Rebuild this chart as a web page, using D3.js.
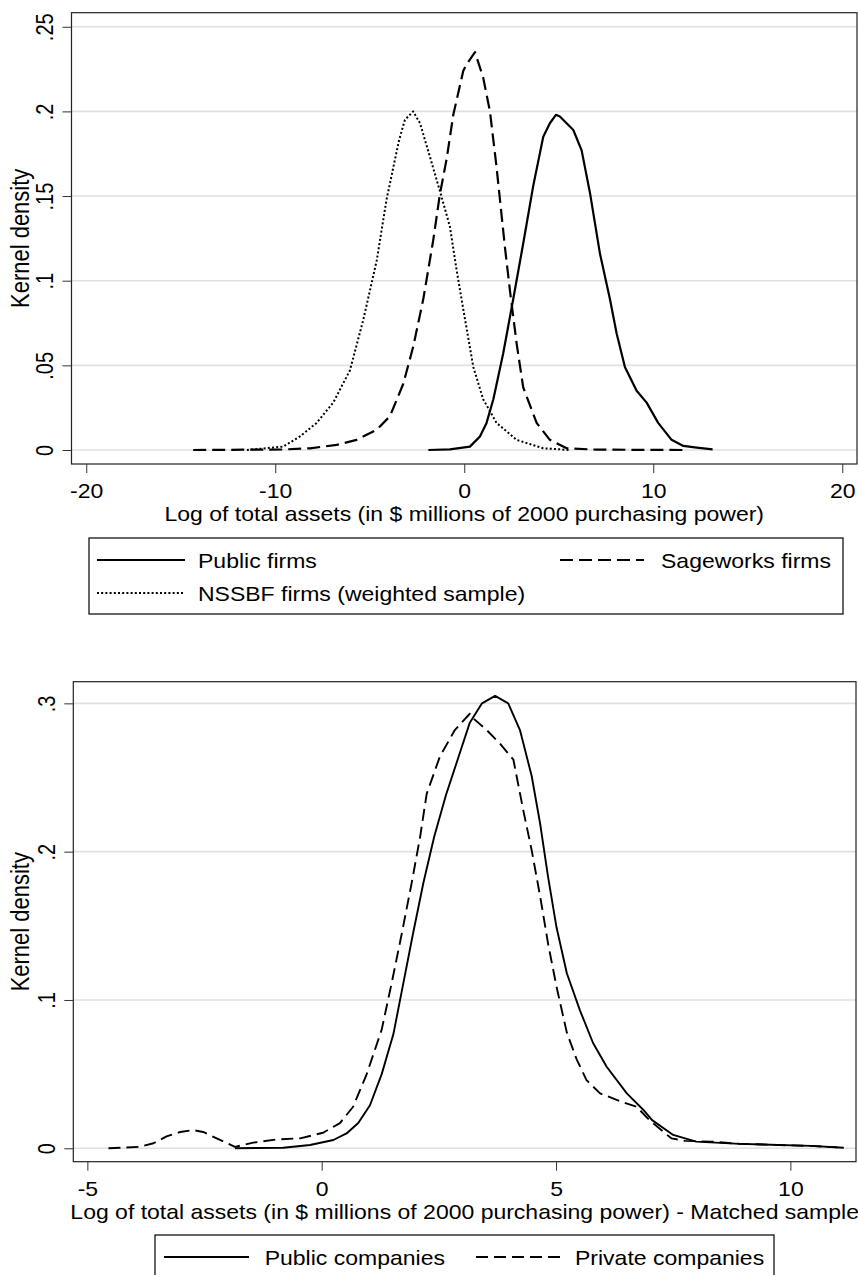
<!DOCTYPE html>
<html>
<head>
<meta charset="utf-8">
<script src="https://cdn.jsdelivr.net/npm/d3@7"></script>
<style>
    body { margin: 0; background: #fff; }
    svg { display: block; }
    text { font-family: "Liberation Sans", Arial, sans-serif; font-size: 20px; fill: #000; }
    .ytitle { font-size: 22px; }
</style>
</head>
<body>
<div id="chart"></div>
<script>
// ---- top panel: full samples ----
const topXTicks = [-20, -10, 0, 10, 20];
const topYTicks = [0, 0.05, 0.1, 0.15, 0.2, 0.25];
const topLegend = ["Public firms", "Sageworks firms", "NSSBF firms (weighted sample)"];

const publicFirms = [[-1.9,0],[-0.76,0.0004],[0.3,0.002],[0.83,0.008],[1.18,0.016],[1.54,0.03],[2.06,0.057],
    [2.59,0.089],[3.12,0.122],[3.65,0.156],[4.18,0.185],[4.53,0.193],[4.85,0.198],[5.06,0.197],[5.77,0.189],
    [6.21,0.177],[6.65,0.152],[7.18,0.116],[7.71,0.089],[8.06,0.069],[8.5,0.049],[9.12,0.035],[9.65,0.028],
    [10.26,0.016],[10.97,0.006],[11.59,0.0024],[12.3,0.0014],[13.14,0.0004]];

const sageworksFirms = [[-14.34,0],[-9.58,0.0003],[-8.16,0.001],[-6.75,0.003],[-5.69,0.006],[-4.63,0.012],
    [-3.93,0.02],[-3.23,0.039],[-2.7,0.061],[-2.17,0.089],[-1.64,0.124],[-1.29,0.151],[-0.93,0.172],[-0.58,0.198],
    [-0.05,0.224],[0.13,0.228],[0.57,0.235],[1.0,0.22],[1.36,0.2],[1.71,0.167],[2.15,0.12],[2.42,0.094],
    [2.77,0.063],[3.12,0.037],[3.83,0.016],[4.53,0.006],[5.42,0.001],[7,0.0002],[11.68,0]];

const nssbfFirms = [[-11.5,0],[-9.58,0.002],[-8.69,0.008],[-7.81,0.016],[-6.93,0.028],[-6.05,0.047],
    [-5.34,0.077],[-4.63,0.112],[-4.11,0.148],[-3.45,0.183],[-3.14,0.195],[-2.7,0.2],[-2.34,0.193],
    [-1.81,0.173],[-1.29,0.153],[-0.76,0.132],[-0.4,0.106],[-0.05,0.083],[0.48,0.049],[1.0,0.03],
    [1.71,0.016],[2.77,0.006],[4.18,0.001],[5.6,0]];

// ---- bottom panel: matched sample ----
const bottomXTicks = [-5, 0, 5, 10];
const bottomYTicks = [0, 0.1, 0.2, 0.3];
const bottomLegend = ["Public companies", "Private companies"];

const publicCompanies = [[-1.85,0],[-0.82,0.0004],[-0.25,0.0022],[0.25,0.0056],[0.53,0.01],[0.78,0.017],
    [1.03,0.029],[1.28,0.05],[1.53,0.077],[1.74,0.111],[1.95,0.145],[2.17,0.179],[2.4,0.21],[2.65,0.238],
    [2.91,0.263],[3.16,0.287],[3.42,0.3],[3.7,0.305],[3.98,0.3],[4.23,0.282],[4.48,0.251],[4.66,0.219],
    [4.83,0.183],[5.01,0.149],[5.23,0.118],[5.51,0.093],[5.79,0.071],[6.08,0.055],[6.51,0.037],[6.86,0.026],
    [7.05,0.019],[7.5,0.009],[7.99,0.0045],[8.92,0.003],[10.44,0.0016],[11.14,0.0004]];

const privateCompanies = [[-4.55,0],[-3.88,0.001],[-3.59,0.0034],[-3.31,0.008],[-3.02,0.011],[-2.74,0.0123],
    [-2.53,0.011],[-2.24,0.0067],[-1.85,0.001],[-1.46,0.0038],[-0.96,0.006],[-0.46,0.0067],[0.03,0.0105],
    [0.39,0.017],[0.67,0.028],[0.96,0.05],[1.28,0.08],[1.49,0.111],[1.71,0.145],[1.92,0.179],[2.1,0.21],
    [2.24,0.239],[2.52,0.264],[2.84,0.282],[3.16,0.293],[3.23,0.29],[3.52,0.282],[3.8,0.273],[4.09,0.262],
    [4.3,0.228],[4.48,0.201],[4.66,0.17],[4.83,0.138],[5.01,0.109],[5.23,0.078],[5.44,0.06],[5.65,0.046],
    [5.94,0.037],[6.43,0.031],[6.72,0.028],[6.99,0.019],[7.46,0.0067],[7.75,0.005],[8.33,0.0045],
    [8.92,0.003],[10.44,0.0016],[11.0,0.0006]];

const W = 858, H = 1275;
const SX = 1.15; // text in the reference is a bit wider than tall

const svg = d3.select("#chart").append("svg")
    .attr("width", W)
    .attr("height", H);

// Stata style labels: ".25", "0", plain hyphen for negatives
const yFormat = d => d === 0 ? "0" : d3.format(".2~f")(d).replace(/^0/, "");
const xFormat = d => String(d);

function drawPanel(cfg) {
    let x = d3.scaleLinear().domain(cfg.xDomain).range([cfg.left, cfg.right]);
    let y = d3.scaleLinear().domain(cfg.yDomain).range([cfg.bottom, cfg.top]);
    let g = svg.append("g");

    // horizontal gridlines
    g.selectAll(".grid")
        .data(cfg.yTicks)
        .enter().append("line")
        .attr("x1", cfg.left).attr("x2", cfg.right)
        .attr("y1", d => y(d)).attr("y2", d => y(d))
        .attr("stroke", "#e0e0e0")
        .attr("stroke-width", 1.6);

    // density curves
    let line = d3.line().x(d => x(d[0])).y(d => y(d[1]));
    cfg.series.forEach(s => {
        g.append("path")
            .datum(s.data)
            .attr("d", line)
            .attr("fill", "none")
            .attr("stroke", "#000")
            .attr("stroke-width", s.width)
            .attr("stroke-dasharray", s.dash)
            .attr("stroke-linejoin", "round");
    });

    // plot frame
    g.append("rect")
        .attr("x", cfg.left).attr("y", cfg.top)
        .attr("width", cfg.right - cfg.left)
        .attr("height", cfg.bottom - cfg.top)
        .attr("fill", "none")
        .attr("stroke", "#222")
        .attr("stroke-width", 1.2);

    // y axis, labels rotated
    let ya = g.append("g")
        .attr("transform", `translate(${cfg.left},0)`)
        .call(d3.axisLeft(y).tickValues(cfg.yTicks).tickSize(9).tickFormat(yFormat));
    ya.select(".domain").remove();
    ya.selectAll(".tick line").attr("stroke", "#333");
    ya.selectAll(".tick text")
        .attr("x", 0).attr("dy", null)
        .attr("y", -18.5 / SX)
        .attr("text-anchor", "middle")
        .attr("transform", `scale(${SX},1) rotate(-90)`);

    // x axis
    let xa = g.append("g")
        .attr("transform", `translate(0,${cfg.bottom})`)
        .call(d3.axisBottom(x).tickValues(cfg.xTicks).tickSize(9).tickFormat(xFormat));
    xa.select(".domain").remove();
    xa.selectAll(".tick line").attr("stroke", "#333");
    xa.selectAll(".tick text")
        .attr("y", 34).attr("dy", null)
        .attr("transform", `scale(${SX},1)`);

    // axis titles
    g.append("text")
        .attr("transform", `translate(${(cfg.left + cfg.right) / 2},${cfg.bottom + 57}) scale(${SX},1)`)
        .attr("text-anchor", "middle")
        .text(cfg.xTitle);

    g.append("text")
        .attr("class", "ytitle")
        .attr("transform", `translate(29,${(cfg.top + cfg.bottom) / 2}) scale(${SX},1) rotate(-90)`)
        .attr("text-anchor", "middle")
        .text("Kernel density");

    // legend box
    let lg = svg.append("g");
    lg.append("rect")
        .attr("x", cfg.legend.box[0]).attr("y", cfg.legend.box[1])
        .attr("width", cfg.legend.box[2]).attr("height", cfg.legend.box[3])
        .attr("fill", "none")
        .attr("stroke", "#000")
        .attr("stroke-width", 1.2);

    cfg.legend.items.forEach((it, i) => {
        let s = cfg.series[i];
        lg.append("line")
            .attr("x1", it.x1).attr("x2", it.x2)
            .attr("y1", it.y).attr("y2", it.y)
            .attr("stroke", "#000")
            .attr("stroke-width", s.width)
            .attr("stroke-dasharray", s.dash);
        lg.append("text")
            .attr("transform", `translate(${it.tx},${it.y + 8}) scale(${SX},1)`)
            .text(cfg.legend.labels[i]);
    });
}

drawPanel({
    left: 71.5, right: 857, top: 12.7, bottom: 464,
    xDomain: [-20.78, 20.78], yDomain: [-0.00827, 0.2583],
    xTicks: topXTicks, yTicks: topYTicks,
    xTitle: "Log of total assets (in $ millions of 2000 purchasing power)",
    series: [
        {data: publicFirms, width: 2.2, dash: null},
        {data: sageworksFirms, width: 2.2, dash: "13,6"},
        {data: nssbfFirms, width: 2, dash: "2,2.2"}
    ],
    legend: {
        box: [89, 538, 754, 76],
        labels: topLegend,
        items: [
            {x1: 97, x2: 185, y: 560, tx: 198},
            {x1: 560, x2: 644, y: 560, tx: 661},
            {x1: 97, x2: 185, y: 593, tx: 198}
        ]
    }
});

drawPanel({
    left: 73.3, right: 856, top: 681.7, bottom: 1161.7,
    xDomain: [-5.30, 11.40], yDomain: [-0.00904, 0.3146],
    xTicks: bottomXTicks, yTicks: bottomYTicks,
    xTitle: "Log of total assets (in $ millions of 2000 purchasing power) - Matched sample",
    series: [
        {data: publicCompanies, width: 1.9, dash: null},
        {data: privateCompanies, width: 1.9, dash: "12,6"}
    ],
    legend: {
        box: [155, 1235, 619, 44],
        labels: bottomLegend,
        items: [
            {x1: 164, x2: 249, y: 1257, tx: 264.7},
            {x1: 476, x2: 562, y: 1257, tx: 575}
        ]
    }
});
</script>
</body>
</html>
